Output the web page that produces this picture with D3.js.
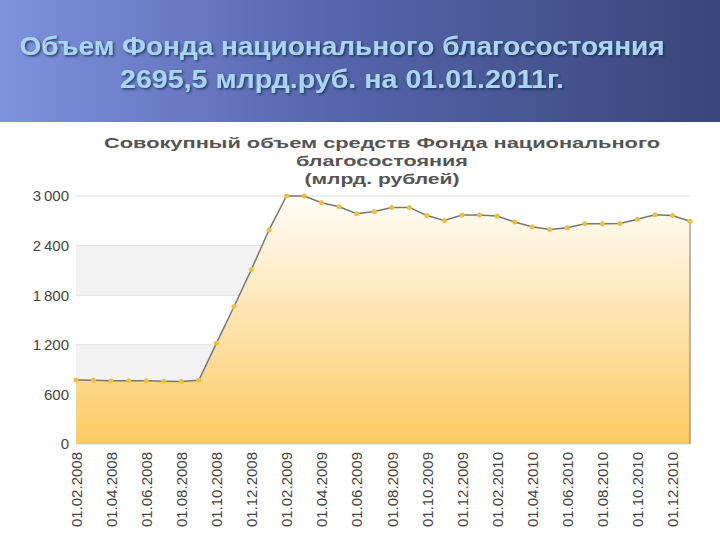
<!DOCTYPE html><html><head><meta charset="utf-8"><script src="https://cdn.jsdelivr.net/npm/d3@7"></script>
<style>body{margin:0}svg{display:block}</style></head><body><svg id="c" width="720" height="540"></svg>
<script>
const dates=[];
const values=[774,772,765,765,765,760,755,770,1218,1660,2112,2588,3000,3000,2918,2870,2785,2813,2862,2862,2765,2705,2770,2770,2757,2685,2628,2595,2615,2665,2665,2668,2720,2773,2765,2695.5];
for(let i=0;i<36;i++){const m=(i+1)%12+1, y=2008+Math.floor((i+1)/12);dates.push("01."+String(m).padStart(2,"0")+"."+y);}
const yTicks=[0,600,1200,1800,2400,3000];
const titleLines=["Объем Фонда национального благосостояния","2695,5 млрд.руб. на 01.01.2011г."];
const chartTitle=["Совокупный объем средств Фонда национального","благосостояния","(млрд. рублей)"];
const svg=d3.select("#c");
const defs=svg.append("defs");
const hg=defs.append("linearGradient").attr("id","hg");
hg.append("stop").attr("offset","0").attr("stop-color","#7f92de");
hg.append("stop").attr("offset","0.45").attr("stop-color","#5766ad");
hg.append("stop").attr("offset","1").attr("stop-color","#394679");
const f=defs.append("filter").attr("id","sh");
f.append("feDropShadow").attr("dx",1.5).attr("dy",1.5).attr("stdDeviation",0.8).attr("flood-color","#1d2a55").attr("flood-opacity",0.8);
const ag=defs.append("linearGradient").attr("id","ag").attr("x1",0).attr("x2",0).attr("y1",0).attr("y2",1);
ag.append("stop").attr("offset","0").attr("stop-color","#fffdf8");
ag.append("stop").attr("offset","1").attr("stop-color","#fccb62");
svg.append("rect").attr("width",720).attr("height",540).attr("fill","#fff");
svg.append("rect").attr("width",720).attr("height",122).attr("fill","url(#hg)");
const tw=[645,444];
titleLines.forEach((t,i)=>{
 svg.append("text").attr("x",342).attr("y",55+i*33).attr("text-anchor","middle").attr("font-family","Liberation Sans, Arial").attr("font-weight","bold").attr("font-size",25).attr("fill","#a9d6f7").attr("filter","url(#sh)").attr("textLength",tw[i]).attr("lengthAdjust","spacingAndGlyphs").text(t);
});
const cw=[556,172,155];
chartTitle.forEach((t,i)=>svg.append("text").attr("x",382).attr("y",148+i*18).attr("text-anchor","middle").attr("font-family","Liberation Sans, Arial").attr("font-weight","bold").attr("font-size",15.5).attr("fill","#555").attr("textLength",cw[i]).attr("lengthAdjust","spacingAndGlyphs").text(t));
const x=d3.scalePoint().domain(dates).range([76,690]);
const y=d3.scaleLinear().domain([0,3000]).range([444,196]);
[[600,1200],[1800,2400]].forEach(b=>svg.append("rect").attr("x",76).attr("width",614).attr("y",y(b[1])).attr("height",y(b[0])-y(b[1])).attr("fill","#f3f3f3"));
yTicks.forEach(t=>svg.append("line").attr("x1",76).attr("x2",690).attr("y1",y(t)).attr("y2",y(t)).attr("stroke","#ddd"));
const data=dates.map((d,i)=>({d,v:values[i]}));
svg.append("path").datum(data).attr("fill","url(#ag)").attr("d",d3.area().x(p=>x(p.d)).y0(y(0)).y1(p=>y(p.v)));
svg.append("path").datum(data).attr("fill","none").attr("stroke","#777").attr("stroke-width",1.5).attr("d",d3.line().x(p=>x(p.d)).y(p=>y(p.v)));
svg.append("line").attr("x1",690).attr("x2",690).attr("y1",y(values[35])).attr("y2",444).attr("stroke","#777");
svg.selectAll("circle").data(data).join("circle").attr("cx",p=>x(p.d)).attr("cy",p=>y(p.v)).attr("r",2.5).attr("fill","#f2bf3a");
const ya=svg.append("g").attr("transform","translate(72,0)").call(d3.axisLeft(y).tickValues(yTicks).tickSize(0).tickFormat(d=>d3.format(",")(d).replace(",","\u2009")));
ya.select(".domain").remove();
ya.selectAll("text").attr("font-family","Liberation Sans, Arial").attr("font-size",15).attr("fill","#444");
const xa=svg.append("g").attr("transform","translate(0,448)").call(d3.axisBottom(x).tickValues(dates.filter((d,i)=>i%2==0)).tickSize(0));
xa.select(".domain").remove();
xa.selectAll("text").attr("font-family","Liberation Sans, Arial").attr("font-size",15).attr("fill","#444").attr("transform","rotate(-90)").attr("text-anchor","end").attr("x",-4).attr("y",0).attr("dy","0.35em");
</script></body></html>
